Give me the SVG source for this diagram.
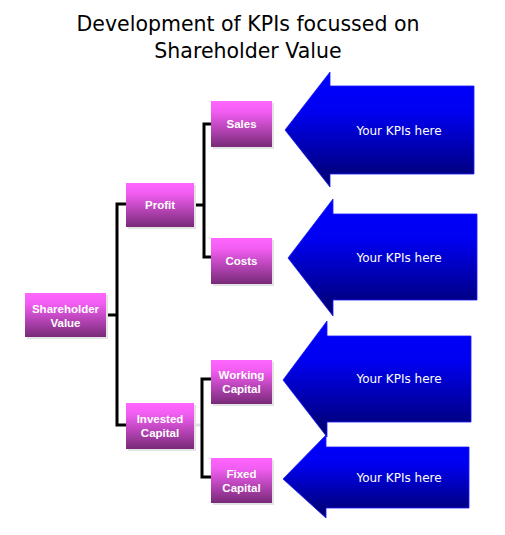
<svg xmlns="http://www.w3.org/2000/svg" width="505" height="535" viewBox="0 0 505 535">
<defs>
<linearGradient id="pink" x1="0" y1="0" x2="0" y2="1">
<stop offset="0" stop-color="#ff66ff"/>
<stop offset="0.25" stop-color="#f05cf0"/>
<stop offset="1" stop-color="#782a78"/>
</linearGradient>
<linearGradient id="blue" x1="0" y1="0" x2="0" y2="1">
<stop offset="0" stop-color="#0000ff"/>
<stop offset="0.35" stop-color="#0000f0"/>
<stop offset="1" stop-color="#00006a"/>
</linearGradient>
</defs>
<style>
.title{font-family:"DejaVu Sans",Verdana,sans-serif;font-size:20.5px;fill:#000;text-anchor:middle}
.box{fill:url(#pink)}
.shadow{fill:#e4e4e4}
.lbl{font-family:"Liberation Sans",Arial,sans-serif;font-weight:bold;font-size:11.5px;fill:#fff;text-anchor:middle}
.arrow{fill:url(#blue);stroke:#1a1aff;stroke-width:0.8}
.kpi{font-family:"DejaVu Sans",Verdana,sans-serif;font-size:12px;fill:#fff;text-anchor:middle}
.conn{fill:none;stroke:#000;stroke-width:3}
</style>
<rect width="505" height="535" fill="#fff"/>
<g id="title">
<text class="title" x="248" y="31">Development of KPIs focussed on</text>
<text class="title" x="248" y="58">Shareholder Value</text>
</g>
<g id="connectors">
<polyline class="conn" points="106,315 117,315"/>
<polyline class="conn" points="126,204 117,204 117,425 126,425"/>
<polyline class="conn" points="194,205 204,205"/>
<polyline class="conn" points="211,124 204,124 204,257 211,257"/>
<line x1="194" y1="425" x2="202" y2="425" stroke="#e0e0e0" stroke-width="3"/>
<polyline class="conn" points="211,379 202,379 202,477 211,477"/>
</g>
<g id="node-shareholder-value">
<rect class="shadow" x="27" y="295" width="81" height="44"/>
<rect class="box" x="25" y="293" width="81" height="44"/>
<text class="lbl" x="65.5" y="312.5">Shareholder</text>
<text class="lbl" x="65.5" y="326.5">Value</text>
</g>
<g id="node-profit">
<rect class="shadow" x="128" y="185" width="68" height="44"/>
<rect class="box" x="126" y="183" width="68" height="44"/>
<text class="lbl" x="160" y="209">Profit</text>
</g>
<g id="node-invested-capital">
<rect class="shadow" x="128" y="405" width="68" height="46"/>
<rect class="box" x="126" y="403" width="68" height="46"/>
<text class="lbl" x="160" y="423">Invested</text>
<text class="lbl" x="160" y="437">Capital</text>
</g>
<g id="node-sales">
<rect class="shadow" x="213" y="103" width="61" height="46"/>
<rect class="box" x="211" y="101" width="61" height="46"/>
<text class="lbl" x="241.5" y="128">Sales</text>
</g>
<g id="node-costs">
<rect class="shadow" x="213" y="240" width="61" height="46"/>
<rect class="box" x="211" y="238" width="61" height="46"/>
<text class="lbl" x="241.5" y="265">Costs</text>
</g>
<g id="node-working-capital">
<rect class="shadow" x="213" y="362" width="61" height="44"/>
<rect class="box" x="211" y="360" width="61" height="44"/>
<text class="lbl" x="241.5" y="379">Working</text>
<text class="lbl" x="241.5" y="393">Capital</text>
</g>
<g id="node-fixed-capital">
<rect class="shadow" x="213" y="460" width="61" height="45"/>
<rect class="box" x="211" y="458" width="61" height="45"/>
<text class="lbl" x="241.5" y="478">Fixed</text>
<text class="lbl" x="241.5" y="492">Capital</text>
</g>
<g id="arrow-1">
<polygon class="arrow" points="285,130 330,72 330,86 474,86 474,174 330,174 330,187"/>
<text class="kpi" x="399" y="135">Your KPIs here</text>
</g>
<g id="arrow-2">
<polygon class="arrow" points="288,258 333,199 333,214 477,214 477,300 333,300 333,316"/>
<text class="kpi" x="399" y="262">Your KPIs here</text>
</g>
<g id="arrow-3">
<polygon class="arrow" points="283,380 327,321 327,336 471,336 471,422 327,422 327,437"/>
<text class="kpi" x="399" y="383">Your KPIs here</text>
</g>
<g id="arrow-4">
<polygon class="arrow" points="283,479 326,435 326,447 469,447 469,508 326,508 326,518"/>
<text class="kpi" x="399" y="482">Your KPIs here</text>
</g>
</svg>
